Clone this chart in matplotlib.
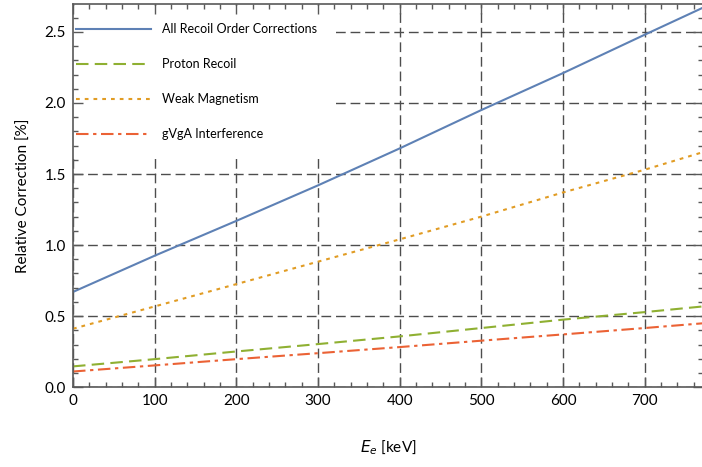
import matplotlib
matplotlib.use("Agg")
import matplotlib.pyplot as plt
from matplotlib.ticker import MultipleLocator, FormatStrFormatter

plt.rcParams['font.family'] = ['Lato', 'DejaVu Sans']
plt.rcParams['mathtext.fontset'] = 'dejavusans'

# electron energy in keV
energy = [0, 100, 200, 300, 400, 500, 600, 700, 775]

# relative corrections in %
all_recoil = [0.67, 0.925, 1.17, 1.42, 1.68, 1.95, 2.21, 2.48, 2.68]
proton_recoil = [0.146, 0.197, 0.251, 0.303, 0.357, 0.416, 0.475, 0.528, 0.570]
weak_mag = [0.411, 0.568, 0.725, 0.883, 1.04, 1.20, 1.37, 1.53, 1.66]
gvga = [0.11, 0.153, 0.197, 0.239, 0.282, 0.327, 0.371, 0.416, 0.451]

labels = ["All Recoil Order Corrections", "Proton Recoil",
          "Weak Magnetism", "gVgA Interference"]

pos = [0.104, 0.171, 0.898, 0.82]
fig = plt.figure(figsize=(7.02, 4.67), dpi=100)
ax = fig.add_axes(pos)

ax.plot(energy, all_recoil, color='#5E81B5', lw=1.5, label=labels[0])
ax.plot(energy, proton_recoil, color='#8FB032', lw=1.5, dashes=(6, 3), label=labels[1])
ax.plot(energy, weak_mag, color='#E19C24', lw=1.5, dashes=(1.8, 2.4), label=labels[2])
ax.plot(energy, gvga, color='#EB6235', lw=1.5, dashes=(6, 2.2, 1.6, 2.2), label=labels[3])

ax.set_xlim(0, 772)
ax.set_ylim(0, 2.695)
ax.xaxis.set_major_locator(MultipleLocator(100))
ax.yaxis.set_major_locator(MultipleLocator(0.5))
ax.tick_params(which='both', length=0, labelbottom=False, labelleft=False)
for s in ax.spines.values():
    s.set_visible(False)

ax.grid(True, which='major', color='0.3', lw=1, dashes=(7, 3.5))

leg = ax.legend(loc='upper left', bbox_to_anchor=(-0.022, 0.995), frameon=True,
                fontsize=9, handlelength=6.0, handletextpad=0.9, labelspacing=1.85,
                borderpad=1.35, borderaxespad=0.0, fancybox=False)
leg.get_frame().set_edgecolor('none')
leg.get_frame().set_facecolor('white')
leg.get_frame().set_alpha(1.0)

# frame, ticks and labels drawn on top of the legend box
ax2 = fig.add_axes(pos, sharex=ax, sharey=ax)
ax2.patch.set_visible(False)
ax2.xaxis.set_minor_locator(MultipleLocator(20))
ax2.yaxis.set_minor_locator(MultipleLocator(0.1))
ax2.yaxis.set_major_formatter(FormatStrFormatter('%.1f'))
ax2.tick_params(which='both', direction='in', top=True, right=True,
                color='0.35', labelsize=11)
ax2.tick_params(which='major', length=7, width=1, pad=5)
ax2.tick_params(which='minor', length=3.5, width=1)
for s in ax2.spines.values():
    s.set_color('0.35')
    s.set_linewidth(1.2)

ax2.set_xlabel(r"$E_e$ [keV]", fontsize=11, labelpad=22)
ax2.set_ylabel("Relative Correction [%]", fontsize=11, labelpad=10)

fig.savefig("out.png", dpi=100)
